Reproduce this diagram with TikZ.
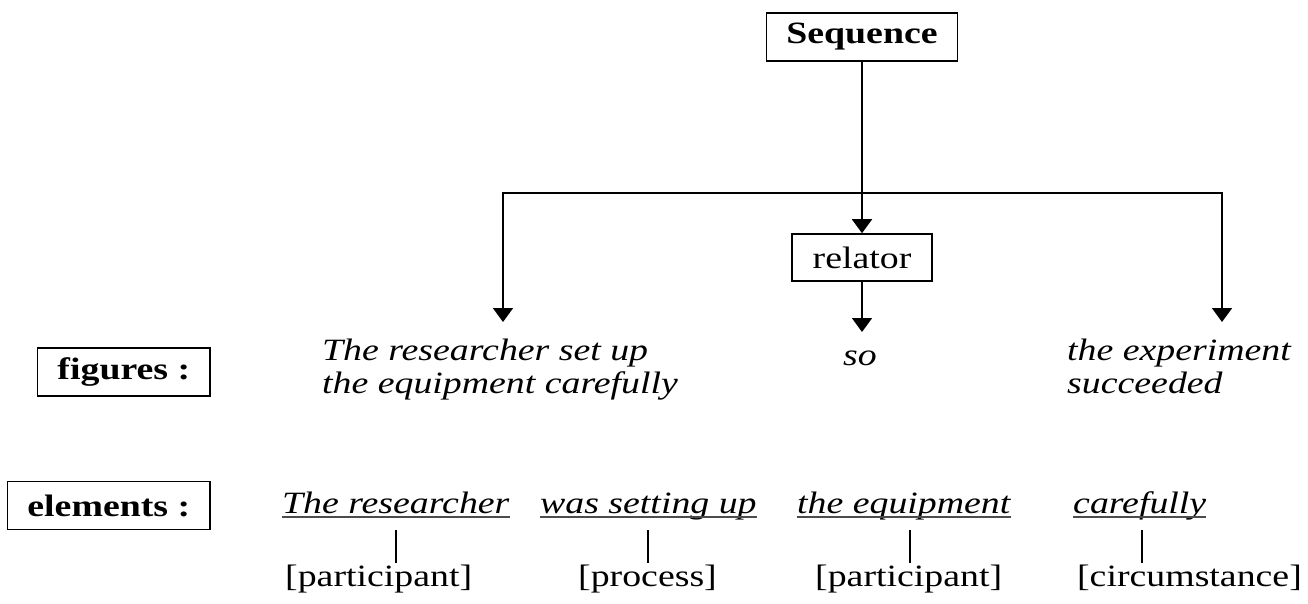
\documentclass[tikz,border=0pt]{standalone}
\usepackage{fontspec}
\setmainfont{Liberation Serif}[FakeStretch=1.22]
\usetikzlibrary{arrows.meta}
\begin{document}
\begin{tikzpicture}[x=1pt,y=-1pt,
  every node/.style={inner sep=0pt, font=\fontsize{31}{33}\selectfont},
  box/.style={draw, line width=1.6pt, minimum height=48pt},
  lbl/.style={box, font=\fontsize{31}{33}\selectfont\bfseries, inner xsep=20pt},
  arr/.style={line width=1.8pt, -{Triangle[width=20pt,length=14pt]}},
  fig/.style={font=\fontsize{31}{33}\selectfont\itshape, align=left, anchor=north west},
  elem/.style={font=\fontsize{31}{33}\selectfont\itshape, anchor=base west},
  role/.style={anchor=base west},
  uline/.style={line width=1.2pt, draw=black!70},
  tick/.style={line width=1.5pt}]
\useasboundingbox (0,0) rectangle (1308,603);

\node[box, font=\fontsize{31}{33}\selectfont\bfseries, minimum width=191pt] (seq) at (862,37) {Sequence};
\node[box, minimum width=140pt, minimum height=47pt] (rel) at (862,257.5) {relator};

\node[lbl, anchor=east] (figs) at (211,372) {figures :};
\node[lbl, anchor=east] (elems) at (211,505.5) {elements :};

\node[fig] (f1) at (322,339) {The researcher set up\\the equipment carefully};
\node[fig, anchor=base] (f2) at (860,365) {so};
\node[fig] (f3) at (1067,339) {the experiment\\succeeded};

\coordinate (br) at (862,193);
\coordinate (tipL) at (503,322);
\coordinate (tipR) at (1222,322);
\coordinate (tipS) at (862,332);

\draw[arr] (seq) -- (rel);
\draw[arr] (br) -| (tipL);
\draw[arr] (br) -| (tipR);
\draw[arr] (rel) -- (tipS);

\node[elem] (e1) at (282,513) {The researcher};
\node[elem] (e2) at (540,513) {was setting up};
\node[elem] (e3) at (797,513) {the equipment};
\node[elem] (e4) at (1073,513) {carefully};
\foreach \n in {e1,e2,e3,e4}{
  \draw[uline] ([yshift=-4pt]\n.base west) -- ([yshift=-4pt]\n.base east);
}

\node[role] (p1) at (285,586) {[participant]};
\node[role] (p2) at (578,586) {[process]};
\node[role] (p3) at (815,586) {[participant]};
\node[role, anchor=base east] (p4) at (1302,586) {[circumstance]};

\coordinate (t1) at (396,530); \coordinate (b1) at (396,563);
\coordinate (t2) at (648,530); \coordinate (b2) at (648,563);
\coordinate (t3) at (910,530); \coordinate (b3) at (910,563);
\coordinate (t4) at (1142,530); \coordinate (b4) at (1142,563);
\draw[tick] (t1) -- (b1);
\draw[tick] (t2) -- (b2);
\draw[tick] (t3) -- (b3);
\draw[tick] (t4) -- (b4);
\end{tikzpicture}
\end{document}
